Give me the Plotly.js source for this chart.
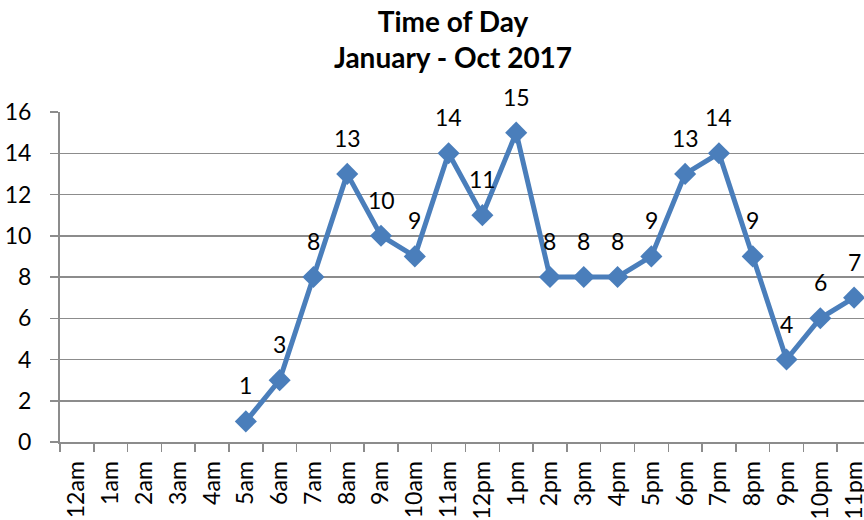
<!DOCTYPE html>
<html>
<head>
<meta charset="utf-8">
<script src="https://cdn.plot.ly/plotly-3.0.1.min.js"></script>
<style>
html,body{margin:0;padding:0;overflow:hidden;background:#fff;}
#chart{width:872px;height:520px;}
</style>
</head>
<body>
<div id="chart"></div>
<script>
const hours = ["12am","1am","2am","3am","4am","5am","6am","7am","8am","9am","10am","11am",
               "12pm","1pm","2pm","3pm","4pm","5pm","6pm","7pm","8pm","9pm","10pm","11pm"];
const counts = [null,null,null,null,null,1,3,8,13,10,9,14,11,15,8,8,8,9,13,14,9,4,6,7];
const yTicks = [0,2,4,6,8,10,12,14,16];

const FONT = "Lato, 'Open Sans', sans-serif";
const BLUE = "#4a7ebb";
const GRID = "#8c8c8c";

const annotations = [];
hours.forEach((h, i) => {
  if (counts[i] !== null) {
    annotations.push({
      x: h, y: counts[i], xref: "x", yref: "y",
      text: String(counts[i]), showarrow: false,
      yshift: 36, font: {family: FONT, size: 23, color: "#000"}
    });
  }
});

const trace = {
  type: "scatter", mode: "lines+markers",
  x: hours, y: counts,
  line: {color: BLUE, width: 5},
  marker: {symbol: "diamond", size: 17, color: BLUE},
  connectgaps: false, hoverinfo: "x+y"
};

const layout = {
  width: 872, height: 520,
  margin: {l: 60, r: 1, t: 112, b: 78},
  paper_bgcolor: "#fff", plot_bgcolor: "#fff",
  showlegend: false,
  title: {
    text: "<b>Time of Day</b><br><b>January - Oct 2017</b>",
    font: {family: FONT, size: 28, color: "#000"},
    xref: "container", x: 453/872, xanchor: "center",
    yref: "container", y: 1 - 32/520, yanchor: "middle"
  },
  xaxis: {
    type: "category", categoryorder: "array", categoryarray: hours,
    range: [-0.5, 23.5], fixedrange: true,
    showgrid: false, showline: true, linecolor: GRID, linewidth: 2,
    ticks: "outside", tickson: "boundaries", ticklen: 8, tickcolor: GRID, tickwidth: 1.5,
    tickangle: -90, tickfont: {family: FONT, size: 23, color: "#000"},
    ticklabelstandoff: 8
  },
  yaxis: {
    range: [0, 16], tickvals: yTicks, fixedrange: true,
    showgrid: true, gridcolor: GRID, gridwidth: 1.5,
    showline: true, linecolor: GRID, linewidth: 2,
    ticks: "outside", ticklen: 8, tickcolor: GRID, tickwidth: 1.5,
    zeroline: false,
    tickfont: {family: FONT, size: 23, color: "#000"},
    ticklabelstandoff: 14
  },
  annotations: annotations
};

Plotly.newPlot("chart", [trace], layout, {displayModeBar: false, staticPlot: true});
</script>
</body>
</html>
